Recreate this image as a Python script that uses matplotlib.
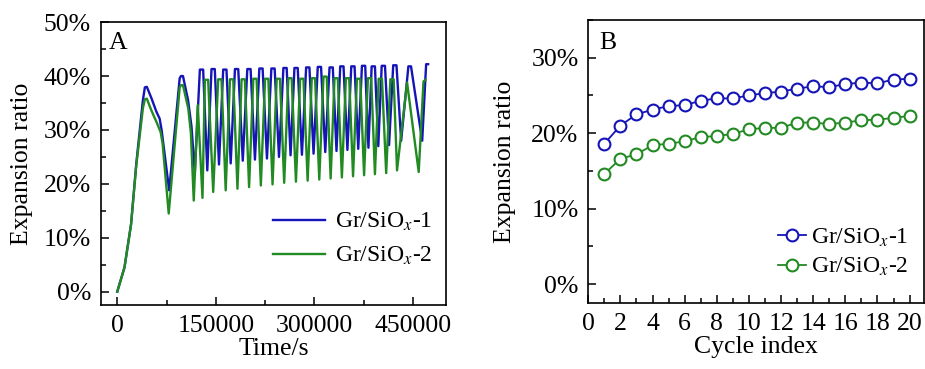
import matplotlib
matplotlib.use('Agg')
import matplotlib.pyplot as plt
from matplotlib.ticker import MultipleLocator, PercentFormatter


plt.rcParams['font.family'] = ['Liberation Serif', 'DejaVu Serif']
plt.rcParams['mathtext.fontset'] = 'stix'
plt.rcParams['font.size'] = 18.5

# Panel A: expansion ratio vs time (vertices)
time_1 = [0, 11000, 21000, 29000, 39000, 42000, 45000, 52000, 59500, 64500, 67500, 79000,
          95000, 97000, 100000, 107800, 113000, 118000,
          125700, 130700, 137000, 143400, 148400, 154800, 161200, 166200, 172600,
          179100, 184100, 191000, 197900, 202900, 209500, 216200, 221200, 227800,
          234500, 239500, 246100, 252800, 257800, 263700, 269600, 274600, 281000,
          287400, 292400, 298700, 305100, 310100, 316500, 323000, 328000, 333600,
          339300, 344300, 350200, 356100, 361100, 366700, 372300, 377300, 382200,
          387100, 392100, 397200, 402400, 407400, 413600, 419900, 424900, 432000,
          443000, 447000, 464000, 470000, 473000]
ratio_1 = [0.0, 4.5, 12.5, 23.8, 35.5, 37.9, 38.0, 35.9, 33.4, 32.1, 30.0, 18.8,
           39.6, 40.0, 40.0, 35.5, 30.6, 22.0,
           41.2, 41.2, 22.5, 41.3, 41.3, 23.6, 41.2, 41.2, 23.8,
           41.3, 41.3, 24.3, 41.3, 41.3, 24.5, 41.4, 41.4, 24.7,
           41.4, 41.4, 25.0, 41.5, 41.5, 25.3, 41.5, 41.5, 25.4,
           41.6, 41.6, 25.6, 41.7, 41.7, 25.9, 41.6, 41.6, 26.1,
           41.8, 41.8, 26.3, 41.8, 41.8, 26.5, 41.9, 41.9, 26.7,
           41.8, 41.8, 27.0, 41.9, 41.9, 27.2, 42.0, 42.0, 28.0,
           41.8, 41.8, 28.0, 42.2, 42.2]

time_2 = [0, 11000, 21000, 29000, 39000, 42000, 45000, 52000, 60000, 66000, 69000, 78300,
          95000, 97000, 100000, 108000, 112000, 116400, 122500, 129700,
          133300, 138300, 146000, 153600, 158600, 165000, 171500, 176500, 182900,
          189200, 194200, 200600, 207000, 212000, 218500, 224900, 229900, 236300,
          242600, 247600, 254000, 260400, 265400, 271900, 278300, 283300, 289700,
          296000, 301000, 307400, 313800, 318800, 324700, 330600, 335600, 341800,
          347900, 352900, 358800, 364700, 369700, 375600, 381400, 386400, 392100,
          397800, 402800, 409200, 415600, 420600, 425700,
          441000, 458700, 466000, 469000]
ratio_2 = [0.0, 4.5, 12.5, 23.5, 34.0, 35.7, 35.8, 33.6, 31.4, 29.6, 27.5, 14.5,
           37.9, 38.3, 38.3, 34.0, 29.5, 16.9, 34.6, 17.4,
           39.3, 39.3, 18.5, 39.4, 39.4, 18.8, 39.4, 39.4, 19.1,
           39.4, 39.4, 19.4, 39.5, 39.5, 19.7, 39.5, 39.5, 19.9,
           39.5, 39.5, 20.2, 39.6, 39.6, 20.4, 39.5, 39.5, 20.6,
           39.6, 39.6, 20.8, 39.9, 39.9, 21.0, 39.6, 39.6, 21.2,
           39.6, 39.6, 21.4, 39.5, 39.5, 21.6, 39.6, 39.6, 21.8,
           39.5, 39.5, 22.0, 39.4, 39.4, 22.5,
           38.8, 22.2, 39.0, 39.3]

# Panel B: expansion ratio per cycle
cycles = list(range(1, 21))
cycle_1 = [18.6, 21.0, 22.5, 23.1, 23.6, 23.7, 24.3, 24.6, 24.6, 25.0,
           25.3, 25.5, 25.9, 26.2, 26.1, 26.5, 26.7, 26.6, 27.1, 27.2]
cycle_2 = [14.6, 16.6, 17.2, 18.4, 18.6, 18.9, 19.5, 19.6, 19.9, 20.5,
           20.7, 20.7, 21.4, 21.4, 21.2, 21.4, 21.7, 21.8, 22.0, 22.3]

labels = ['Gr/SiO$_x$-1', 'Gr/SiO$_x$-2']
blue = '#1414b8'
green = '#228a22'

fig = plt.figure(figsize=(9.25, 3.69), dpi=100)
ax1 = fig.add_axes([0.109, 0.173, 0.373, 0.767])
ax2 = fig.add_axes([0.636, 0.179, 0.363, 0.767])

ax1.plot(time_1, ratio_1, color=blue, lw=1.7, label=labels[0])
ax1.plot(time_2, ratio_2, color=green, lw=1.7, label=labels[1])
ax1.set_xlim(-25000, 500000)
ax1.set_ylim(-2.5, 50)
ax1.xaxis.set_major_locator(MultipleLocator(150000))
ax1.xaxis.set_minor_locator(MultipleLocator(75000))
ax1.yaxis.set_major_locator(MultipleLocator(10))
ax1.yaxis.set_minor_locator(MultipleLocator(5))
ax1.yaxis.set_major_formatter(PercentFormatter(decimals=0))
ax1.set_xlabel('Time/s', labelpad=1)
ax1.set_ylabel('Expansion ratio', labelpad=8)
ax1.text(0.049, 0.927, 'A', transform=ax1.transAxes, ha='center', va='center', fontsize=18.5)
ax1.legend(loc='center left', bbox_to_anchor=(0.5, 0.233), frameon=False, fontsize=17,
           handlelength=2.2, handletextpad=0.4, labelspacing=0.5, borderpad=0, borderaxespad=0)

ax2.plot(cycles, cycle_1, color=blue, lw=1.3, marker='o', ms=8.5, mfc='white', mew=1.5, label=labels[0])
ax2.plot(cycles, cycle_2, color=green, lw=1.3, marker='o', ms=8.5, mfc='white', mew=1.5, label=labels[1])
ax2.set_xlim(0, 20.9)
ax2.set_ylim(-2.5, 35)
ax2.xaxis.set_major_locator(MultipleLocator(2))
ax2.xaxis.set_minor_locator(MultipleLocator(1))
ax2.yaxis.set_major_locator(MultipleLocator(10))
ax2.yaxis.set_minor_locator(MultipleLocator(5))
ax2.yaxis.set_major_formatter(PercentFormatter(decimals=0))
ax2.set_xlabel('Cycle index', labelpad=1)
ax2.set_ylabel('Expansion ratio', labelpad=11)
ax2.text(0.057, 0.919, 'B', transform=ax2.transAxes, ha='center', va='center', fontsize=18.5)
ax2.legend(loc='center left', bbox_to_anchor=(0.565, 0.178), frameon=False, fontsize=17,
           handlelength=1.2, handletextpad=0.2, labelspacing=0.3, borderpad=0, borderaxespad=0)

for ax in (ax1, ax2):
    for s in ax.spines.values():
        s.set_linewidth(1.2)
    ax.tick_params(which='both', direction='in', width=1.1, pad=7)
    ax.tick_params(which='major', length=6)
    ax.tick_params(which='minor', length=3.5)

fig.savefig('out.png', dpi=100)
